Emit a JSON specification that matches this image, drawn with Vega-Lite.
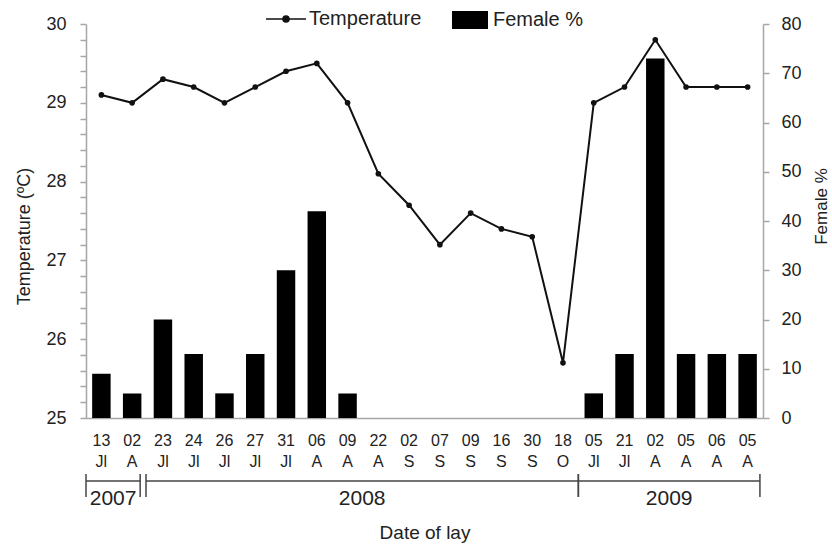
{
  "$schema": "https://vega.github.io/schema/vega-lite/v6.json",
  "width": 677,
  "height": 394,
  "autosize": {"type": "none"},
  "padding": {"left": 86, "top": 24, "right": 69, "bottom": 127},
  "config": {
    "view": {"stroke": null},
    "font": "Liberation Sans",
    "axis": {
      "grid": false,
      "labelColor": "#222",
      "titleColor": "#222",
      "domainColor": "#a6a6a6",
      "domainWidth": 1.5,
      "tickColor": "#a6a6a6",
      "tickWidth": 1.5,
      "titleFontWeight": "normal"
    },
    "legend": {"labelColor": "#222", "labelFontSize": 20, "padding": 0}
  },
  "datasets": {
    "lays": [
      {"lay": "1 13 Jl", "temp": 29.1, "female": 9},
      {"lay": "2 02 A", "temp": 29.0, "female": 5},
      {"lay": "3 23 Jl", "temp": 29.3, "female": 20},
      {"lay": "4 24 Jl", "temp": 29.2, "female": 13},
      {"lay": "5 26 Jl", "temp": 29.0, "female": 5},
      {"lay": "6 27 Jl", "temp": 29.2, "female": 13},
      {"lay": "7 31 Jl", "temp": 29.4, "female": 30},
      {"lay": "8 06 A", "temp": 29.5, "female": 42},
      {"lay": "9 09 A", "temp": 29.0, "female": 5},
      {"lay": "10 22 A", "temp": 28.1, "female": 0},
      {"lay": "11 02 S", "temp": 27.7, "female": 0},
      {"lay": "12 07 S", "temp": 27.2, "female": 0},
      {"lay": "13 09 S", "temp": 27.6, "female": 0},
      {"lay": "14 16 S", "temp": 27.4, "female": 0},
      {"lay": "15 30 S", "temp": 27.3, "female": 0},
      {"lay": "16 18 O", "temp": 25.7, "female": 0},
      {"lay": "17 05 Jl", "temp": 29.0, "female": 5},
      {"lay": "18 21 Jl", "temp": 29.2, "female": 13},
      {"lay": "19 02 A", "temp": 29.8, "female": 73},
      {"lay": "20 05 A", "temp": 29.2, "female": 13},
      {"lay": "21 06 A", "temp": 29.2, "female": 13},
      {"lay": "22 05 A", "temp": 29.2, "female": 13}
    ],
    "years": [
      {"year": "2007", "start": 0, "end": 1.76},
      {"year": "2008", "start": 1.95, "end": 16},
      {"year": "2009", "start": 16, "end": 21.9}
    ]
  },
  "layer": [
    {
      "data": {"name": "lays"},
      "encoding": {
        "x": {
          "field": "lay",
          "type": "nominal",
          "sort": null,
          "scale": {"paddingInner": 0.4, "paddingOuter": 0.2},
          "axis": {
            "title": "Date of lay",
            "titleFontSize": 19,
            "titlePadding": 54,
            "labelExpr": "slice(split(datum.value, ' '), 1)",
            "labelAngle": 0,
            "labelFontSize": 16,
            "labelLineHeight": 21,
            "labelPadding": 14,
            "ticks": false,
            "tickSize": 0
          }
        }
      },
      "layer": [
        {
          "mark": {"type": "bar"},
          "encoding": {
            "y": {
              "field": "female",
              "type": "quantitative",
              "scale": {"domain": [0, 80], "nice": false},
              "axis": {
                "orient": "right",
                "title": "Female %",
                "titleAngle": 270,
                "titleBaseline": "top",
                "titleFontSize": 17,
                "titlePadding": 12,
                "titleY": 182,
                "values": [0, 10, 20, 30, 40, 50, 60, 70, 80],
                "tickCount": 20,
                "labelOverlap": false,
                "tickSize": 6,
                "labelFontSize": 18,
                "labelPadding": 12
              }
            },
            "fill": {
              "datum": "Female %",
              "scale": {"range": ["#000000"]},
              "legend": {
                "title": null,
                "orient": "none",
                "legendX": 366,
                "legendY": -22,
                "symbolType": "M-1,-0.5H1V0.5H-1Z",
                "symbolSize": 1296,
                "symbolStrokeWidth": 0,
                "labelOffset": 5
              }
            }
          }
        },
        {
          "layer": [
            {
              "mark": {"type": "line", "strokeWidth": 2},
              "encoding": {
                "y": {
                  "field": "temp",
                  "type": "quantitative",
                  "scale": {"domain": [25, 30], "nice": false, "zero": false},
                  "axis": {
                    "orient": "left",
                    "title": "Temperature (ºC)",
                    "titleFontSize": 18,
                    "titlePadding": 12,
                    "titleY": 212,
                    "values": [25, 25.2, 25.4, 25.6, 25.8, 26, 26.2, 26.4, 26.6, 26.8, 27, 27.2, 27.4, 27.6, 27.8, 28, 28.2, 28.4, 28.6, 28.8, 29, 29.2, 29.4, 29.6, 29.8, 30],
                    "tickCount": 40,
                    "labelExpr": "datum.value % 1 === 0 ? format(datum.value, 'd') : ''",
                    "labelOverlap": false,
                    "labelBound": false,
                    "tickSize": 6,
                    "labelFontSize": 18,
                    "labelPadding": 14
                  }
                },
                "stroke": {
                  "datum": "Temperature",
                  "scale": {"range": ["#111111"]},
                  "legend": {
                    "title": null,
                    "orient": "none",
                    "legendX": 179,
                    "legendY": -26,
                    "symbolType": "M-1,0H1M0.15,0A0.15,0.15,0,1,1,-0.15,0A0.15,0.15,0,1,1,0.15,0Z",
                    "symbolSize": 1600,
                    "symbolStrokeWidth": 1.6,
                    "labelOffset": 2,
                    "encode": {"symbols": {"update": {"fill": {"value": "#111111"}, "stroke": {"value": "#111111"}}}}
                  }
                }
              }
            },
            {
              "mark": {"type": "point", "filled": true, "size": 32, "color": "#111111", "opacity": 1},
              "encoding": {
                "y": {"field": "temp", "type": "quantitative"}
              }
            }
          ]
        }
      ],
      "resolve": {"scale": {"y": "independent"}}
    },
    {
      "data": {"name": "years"},
      "encoding": {
        "x": {
          "field": "start",
          "type": "quantitative",
          "scale": {"domain": [0, 22], "nice": false, "zero": false},
          "axis": null
        }
      },
      "layer": [
        {
          "mark": {"type": "rule", "color": "#444", "strokeWidth": 1.5},
          "encoding": {
            "x2": {"field": "end"},
            "y": {"datum": 70, "type": "quantitative", "scale": {"domain": [0, 100], "range": [473, 450]}, "axis": null}
          }
        },
        {
          "mark": {"type": "rule", "color": "#444", "strokeWidth": 1.5},
          "encoding": {
            "y": {"datum": 0, "type": "quantitative"},
            "y2": {"datum": 100}
          }
        },
        {
          "mark": {"type": "rule", "color": "#444", "strokeWidth": 1.5},
          "encoding": {
            "x": {"field": "end", "type": "quantitative"},
            "y": {"datum": 0, "type": "quantitative"},
            "y2": {"datum": 100}
          }
        },
        {
          "transform": [{"fold": ["start", "end"], "as": ["edge", "pos"]}],
          "mark": {"type": "text", "fontSize": 21, "color": "#222", "baseline": "middle"},
          "encoding": {
            "x": {"field": "pos", "aggregate": "mean", "type": "quantitative"},
            "y": {"datum": -9, "type": "quantitative"},
            "text": {"field": "year"}
          }
        }
      ]
    }
  ],
  "resolve": {"scale": {"x": "independent", "y": "independent"}}
}
